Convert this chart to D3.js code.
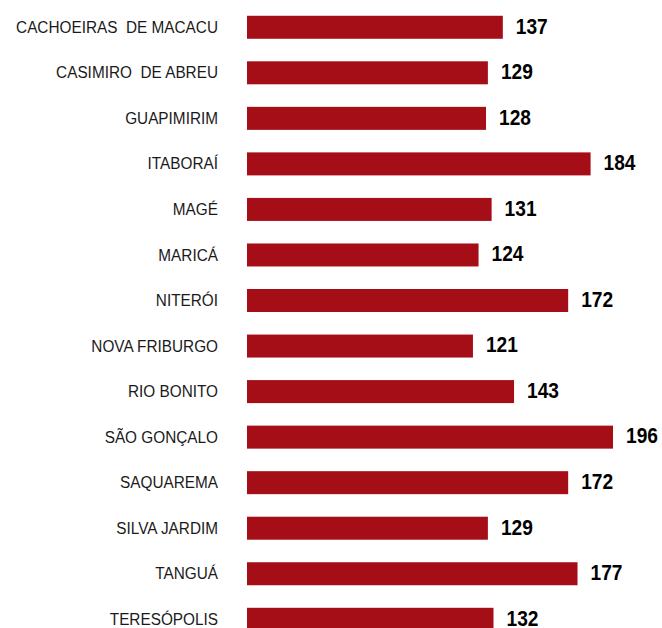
<!DOCTYPE html>
<html>
<head>
<meta charset="utf-8">
<script src="https://cdn.jsdelivr.net/npm/d3@7"></script>
<style>
  body { margin: 0; background: #fff; }
</style>
</head>
<body>
<div id="chart"></div>
<script>
// Municípios e valores
const municipios = [
    "CACHOEIRAS  DE MACACU", "CASIMIRO  DE ABREU", "GUAPIMIRIM", "ITABORAÍ",
    "MAGÉ", "MARICÁ", "NITERÓI", "NOVA FRIBURGO", "RIO BONITO",
    "SÃO GONÇALO", "SAQUAREMA", "SILVA JARDIM", "TANGUÁ", "TERESÓPOLIS"
]
const valores = [137, 129, 128, 184, 131, 124, 172, 121, 143, 196, 172, 129, 177, 132]

const width = 662, height = 628
const fonte = "'Liberation Sans', Arial, sans-serif"

const SVG = d3.select("#chart")
    .append("svg")
    .attr("width", width)
    .attr("height", height)

const dados = municipios.map((m, i) => ({ nome: m, valor: valores[i] }))

// Escalas
const escalaX = d3.scaleLinear()
    .domain([0, 196])
    .range([247, 613])

const escalaY = d3.scaleBand()
    .domain(municipios)
    .range([4.5, 4.5 + 45.54 * municipios.length])
    .paddingInner(0.495)
    .paddingOuter(0.2475)

const grupos = SVG.selectAll("g.linha")
    .data(dados)
    .join("g")
    .attr("class", "linha")

grupos.append("rect")
    .attr("x", escalaX(0))
    .attr("y", d => escalaY(d.nome))
    .attr("width", d => escalaX(d.valor) - escalaX(0))
    .attr("height", escalaY.bandwidth())
    .attr("fill", "#a50e17")

// nomes (fonte estreita simulada com scale)
grupos.append("text")
    .attr("transform", d => `translate(218, ${escalaY(d.nome) + escalaY.bandwidth() / 2 + 5.6}) scale(0.93, 1)`)
    .attr("text-anchor", "end")
    .style("font-family", fonte)
    .style("font-size", "16.5px")
    .style("white-space", "pre")
    .attr("fill", "#1a1a1a")
    .text(d => d.nome)

// valores
grupos.append("text")
    .attr("transform", d => `translate(${escalaX(d.valor) + 13}, ${escalaY(d.nome) + escalaY.bandwidth() / 2 + 6.3}) scale(0.87, 1)`)
    .style("font-family", fonte)
    .style("font-size", "22px")
    .style("font-weight", "bold")
    .attr("fill", "#000")
    .text(d => d.valor)
</script>
</body>
</html>
